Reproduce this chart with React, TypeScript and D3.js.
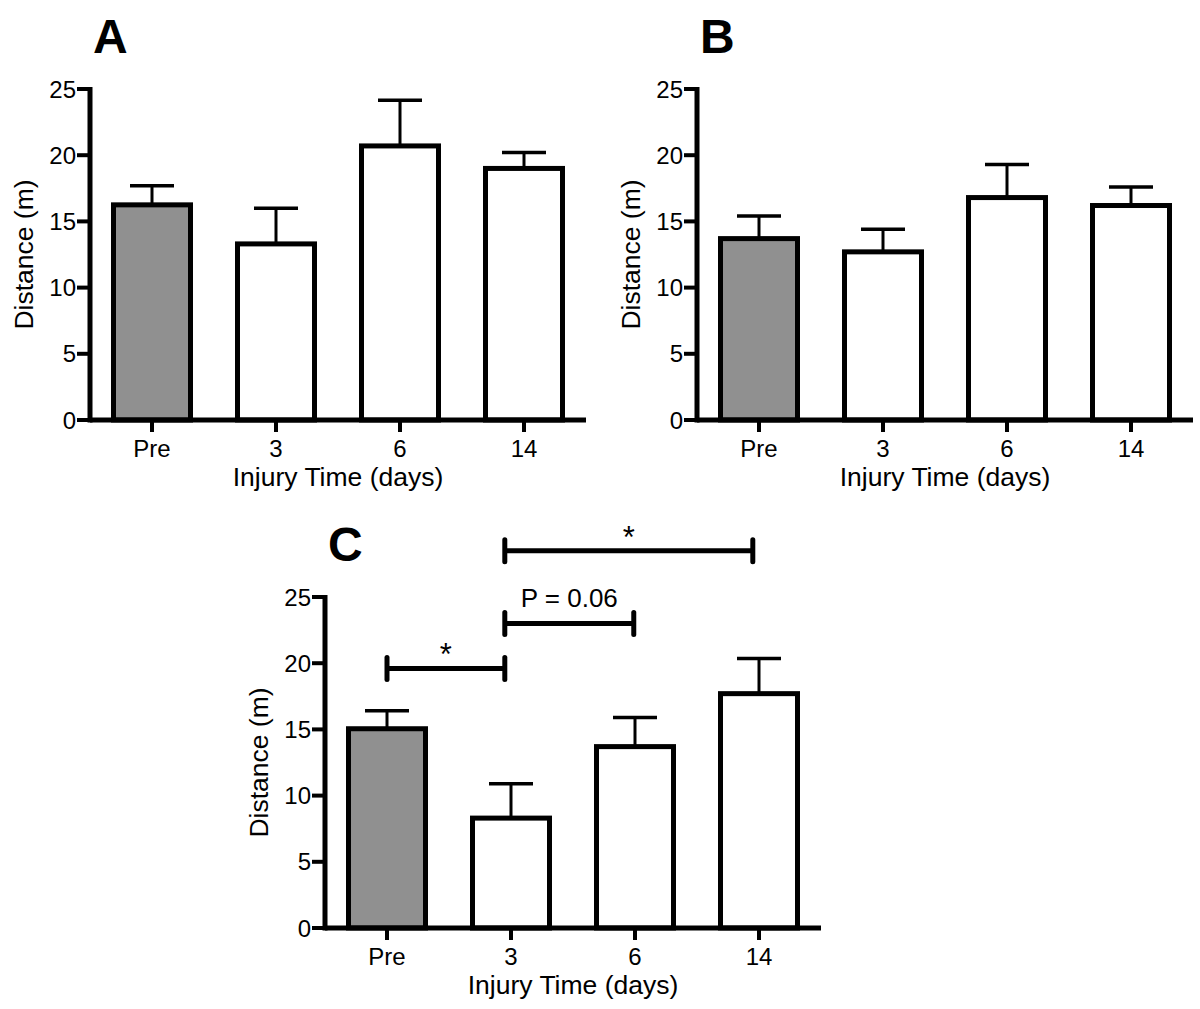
import React from "react";
import * as d3 from "d3";

const categories = ["Pre", "3", "6", "14"];
const yTicks = [0, 5, 10, 15, 20, 25];

const meansA = [16.25, 13.3, 20.7, 19.0];
const semA = [1.45, 2.7, 3.45, 1.2];
const meansB = [13.7, 12.7, 16.8, 16.2];
const semB = [1.7, 1.7, 2.5, 1.4];
const meansC = [15.05, 8.3, 13.7, 17.7];
const semC = [1.35, 2.6, 2.2, 2.65];

const sigFrom = [0, 0.95, 0.95];
const sigTo = [0.95, 1.99, 2.95];
const sigLevel = [19.6, 23.0, 28.5];
const sigLabel = ["*", "P = 0.06", "*"];

const FONT = "'Liberation Sans', Arial, Helvetica, sans-serif";
const GRAY = "#909090";

type PanelProps = {
  letter: string;
  axisX: number;
  xEnd: number;
  y0: number;
  y25: number;
  means: number[];
  sems: number[];
  sig?: boolean;
};

function Panel({ letter, axisX, xEnd, y0, y25, means, sems, sig }: PanelProps) {
  const x = d3.scaleBand<string>().domain(categories).range([axisX, xEnd]).padding(0);
  const y = d3.scaleLinear().domain([0, 25]).range([y0, y25]);
  const step = x.step();
  const barW = 77;
  const capW = 44;
  const cx = (c: string) => (x(c) as number) + step / 2;
  const cpos = d3.scaleLinear().domain([0, 1]).range([cx(categories[0]), cx(categories[1])]);
  const midY = (y0 + y25) / 2;
  return (
    <g>
      <text x={axisX + 3} y={y25 - 36} fontFamily={FONT} fontWeight="bold" fontSize={48} fill="#000">
        {letter}
      </text>
      {categories.map((c, i) => (
        <g key={c}>
          <line x1={cx(c)} x2={cx(c)} y1={y(means[i])} y2={y(means[i] + sems[i])} stroke="#000" strokeWidth={3} />
          <line
            x1={cx(c) - capW / 2}
            x2={cx(c) + capW / 2}
            y1={y(means[i] + sems[i])}
            y2={y(means[i] + sems[i])}
            stroke="#000"
            strokeWidth={3.5}
          />
          <rect
            x={cx(c) - barW / 2}
            y={y(means[i])}
            width={barW}
            height={y(0) - y(means[i])}
            fill={i === 0 ? GRAY : "#fff"}
            stroke="#000"
            strokeWidth={5}
          />
        </g>
      ))}
      <line x1={axisX} x2={axisX} y1={y(25) - 2} y2={y(0) + 2.5} stroke="#000" strokeWidth={5} />
      {yTicks.map((t) => (
        <g key={t}>
          <line x1={axisX - 13} x2={axisX} y1={y(t)} y2={y(t)} stroke="#000" strokeWidth={4} />
          <text
            x={axisX - 14}
            y={y(t)}
            dy="0.36em"
            textAnchor="end"
            fontFamily={FONT}
            fontSize={24}
            fill="#000"
          >
            {t}
          </text>
        </g>
      ))}
      <line x1={axisX} x2={xEnd} y1={y(0)} y2={y(0)} stroke="#000" strokeWidth={5} />
      {categories.map((c) => (
        <g key={c}>
          <line x1={cx(c)} x2={cx(c)} y1={y(0)} y2={y(0) + 12} stroke="#000" strokeWidth={4} />
          <text x={cx(c)} y={y(0) + 37} textAnchor="middle" fontFamily={FONT} fontSize={24} fill="#000">
            {c}
          </text>
        </g>
      ))}
      <text
        x={(axisX + xEnd) / 2}
        y={y(0) + 66}
        textAnchor="middle"
        fontFamily={FONT}
        fontSize={26.5}
        fill="#000"
      >
        Injury Time (days)
      </text>
      <text
        transform={`translate(${axisX - 57},${midY}) rotate(-90)`}
        textAnchor="middle"
        fontFamily={FONT}
        fontSize={26.5}
        fill="#000"
      >
        Distance (m)
      </text>
      {sig &&
        sigFrom.map((f, i) => {
          const x1 = cpos(f);
          const x2 = cpos(sigTo[i]);
          const yy = y(sigLevel[i]);
          const isStar = sigLabel[i] === "*";
          return (
            <g key={i}>
              <line x1={x1} x2={x2} y1={yy} y2={yy} stroke="#000" strokeWidth={5} />
              <line x1={x1} x2={x1} y1={yy - 11} y2={yy + 11} stroke="#000" strokeWidth={5} strokeLinecap="round" />
              <line x1={x2} x2={x2} y1={yy - 11} y2={yy + 11} stroke="#000" strokeWidth={5} strokeLinecap="round" />
              <text
                x={(x1 + x2) / 2}
                y={isStar ? yy - 3 : yy - 16}
                textAnchor="middle"
                fontFamily={FONT}
                fontSize={isStar ? 31 : 26}
                fill="#000"
              >
                {sigLabel[i]}
              </text>
            </g>
          );
        })}
    </g>
  );
}

export default function App() {
  return (
    <svg
      width={1200}
      height={1009}
      viewBox="0 0 1200 1009"
      style={{ position: "absolute", left: 0, top: 0, display: "block", background: "#fff" }}
    >
      <rect x={0} y={0} width={1200} height={1009} fill="#fff" />
      <Panel letter="A" axisX={90} xEnd={586} y0={420} y25={89} means={meansA} sems={semA} />
      <Panel letter="B" axisX={697} xEnd={1193} y0={420} y25={89} means={meansB} sems={semB} />
      <Panel letter="C" axisX={325} xEnd={821} y0={928} y25={597} means={meansC} sems={semC} sig />
    </svg>
  );
}
